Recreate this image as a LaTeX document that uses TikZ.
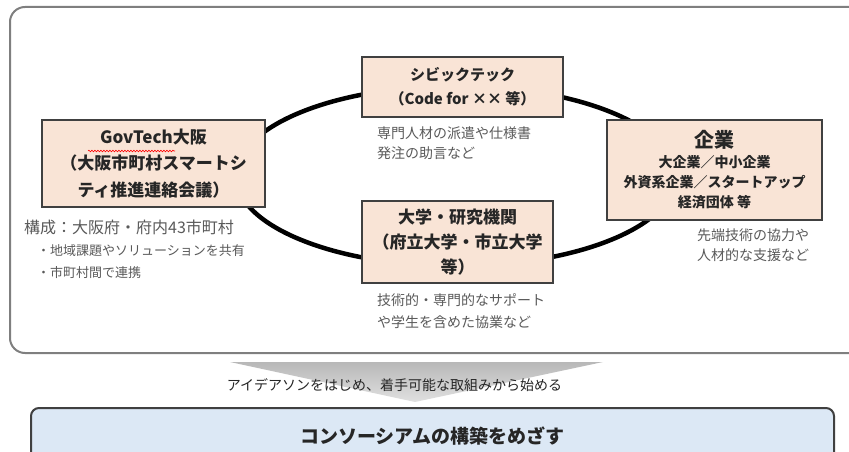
\documentclass[tikz,border=0pt]{standalone}
\usepackage{fontspec}
\setmainfont{Noto Sans CJK JP}
\usetikzlibrary{decorations.pathmorphing}
\definecolor{peach}{HTML}{F9E4D6}
\definecolor{lightblue}{HTML}{DCE8F5}
\definecolor{boxline}{HTML}{404040}
\definecolor{outerline}{HTML}{7F7F7F}
\definecolor{textdark}{HTML}{262626}
\definecolor{captext}{HTML}{595959}
\begin{document}
\begin{tikzpicture}[x=1pt,y=-1pt,
  actor/.style={draw=boxline, line width=1.5pt, fill=peach, inner sep=0pt,
    text=textdark, align=center, font=\bfseries},
  caption/.style={inner sep=0pt, text=captext, align=left, anchor=west},
  ring/.style={line width=4.5pt, black}]
\useasboundingbox (0,0) rectangle (849,452);
% outer frame
\draw[outerline, line width=2pt, rounded corners=15pt] (10,7) rectangle (880,353);
% ring
\draw[ring] (456,176) ellipse [x radius=220pt, y radius=90pt];
% actors
\node[actor, minimum width=223pt, minimum height=87pt,
  font=\bfseries\fontsize{17}{26.5}\selectfont] (gov) at (153.5,163.5)
  {GovTech大阪\\（大阪市町村スマートシ\\ティ推進連絡会議）};
\node[actor, minimum width=201pt, minimum height=60pt,
  font=\bfseries\fontsize{15}{24}\selectfont] (civic) at (462.5,87)
  {シビックテック\\（Code for ×× 等）};
\node[actor, minimum width=191pt, minimum height=82pt,
  font=\bfseries\fontsize{17}{25}\selectfont] (univ) at (457.5,242)
  {大学・研究機関\\（府立大学・市立大学\\等）};
\node[actor, minimum width=215pt, minimum height=100pt,
  font=\bfseries\fontsize{14}{20}\selectfont] (corp) at (714.5,170)
  {{\fontsize{20}{22}\selectfont 企業}\\大企業／中小企業\\外資系企業／スタートアップ\\経済団体 等};
% spell-check underline
\draw[red, line width=0.6pt, decorate, decoration={snake, amplitude=0.8pt, segment length=3pt}]
  (88,151) -- (175,151);
% captions
\node[caption, font=\fontsize{13}{22}\selectfont] (govcap) at (24,249.5)
  {{\fontsize{16}{22}\selectfont 構成：大阪府・府内43市町村}\\
   \hspace*{13pt}・地域課題やソリューションを共有\\
   \hspace*{13pt}・市町村間で連携};
\node[caption, font=\fontsize{14}{19.5}\selectfont] (civiccap) at (377,143)
  {専門人材の派遣や仕様書\\発注の助言など};
\node[caption, font=\fontsize{14}{22}\selectfont] (univcap) at (377,311)
  {技術的・専門的なサポート\\や学生を含めた協業など};
\node[caption, font=\fontsize{14}{20}\selectfont] (corpcap) at (697,245)
  {先端技術の協力や\\人材的な支援など};
% arrow
\shade[top color=black!28, bottom color=black!12] (230,362) -- (603,362) -- (415,402) -- cycle;
\node[inner sep=0pt, text=textdark, font=\fontsize{14}{16}\selectfont] (step) at (394.5,385)
  {アイデアソンをはじめ、着手可能な取組みから始める};
% goal
\node[draw=boxline, line width=2pt, fill=lightblue, rounded corners=8pt,
  minimum width=803pt, minimum height=56pt, inner sep=0pt, text=textdark,
  font=\bfseries\fontsize{19}{22}\selectfont] (goal) at (432.5,436) {コンソーシアムの構築をめざす};
\end{tikzpicture}
\end{document}
